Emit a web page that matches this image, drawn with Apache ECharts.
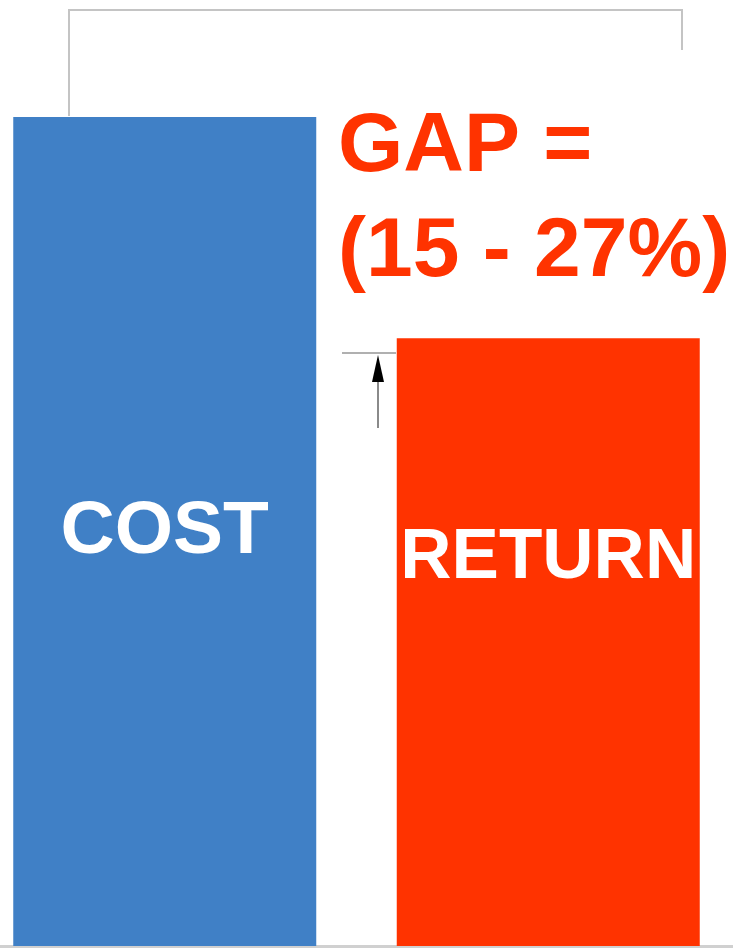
<!DOCTYPE html>
<html>
<head>
<meta charset="utf-8">
<script src="https://cdn.jsdelivr.net/npm/echarts@6/dist/echarts.min.js"></script>
<style>
    html, body { margin: 0; padding: 0; background: #ffffff; }
    #main { width: 733px; height: 948px; }
</style>
</head>
<body>
<div id="main"></div>
<script>
// 数据
const categories = ['COST', 'RETURN']
const values = [100, 73.3]
const barColors = ['#4080C6', '#FF3300']
const gapLines = ['GAP =', '(15 - 27%)']

const chart = echarts.init(document.getElementById('main'), null, { renderer: 'canvas' })

const labelFont = 'Liberation Sans, Arial, sans-serif'

const option = {
    animation: false,
    grid: { left: -27, right: -7, top: 117, bottom: 2, outerBoundsMode: 'none' },
    xAxis: {
        type: 'category',
        data: categories,
        axisLine: { lineStyle: { color: '#d0d0d0', width: 3 } },
        axisTick: { show: false },
        axisLabel: { show: false }
    },
    yAxis: {
        type: 'value',
        min: 0,
        max: 100,
        show: false,
        splitLine: { show: false }
    },
    series: [{
        type: 'bar',
        barWidth: 303,
        data: values.map((v, i) => ({
            value: v,
            itemStyle: { color: barColors[i] },
            label: {
                show: true,
                position: 'inside',
                formatter: categories[i],
                color: '#ffffff',
                fontFamily: labelFont,
                fontWeight: 'bold',
                fontSize: i === 0 ? 75 : 71,
                offset: i === 0 ? [0, 1] : [0, -84]
            }
        }))
    }],
    graphic: [
        // 顶部灰色框
        {
            type: 'polyline',
            shape: { points: [[69, 116], [69, 10], [682, 10], [682, 50]] },
            style: { stroke: '#c4c4c4', lineWidth: 2, fill: null },
            z: 0
        },
        // 箭头
        {
            type: 'line',
            shape: { x1: 342, y1: 353, x2: 396, y2: 353 },
            style: { stroke: '#b0b0b0', lineWidth: 2 }
        },
        {
            type: 'line',
            shape: { x1: 378, y1: 375, x2: 378, y2: 428 },
            style: { stroke: '#8a8a8a', lineWidth: 2 }
        },
        {
            type: 'polygon',
            shape: { points: [[378, 355], [372, 382], [384, 382]] },
            style: { fill: '#000000' }
        },
        // GAP 文字
        {
            type: 'text',
            style: {
                text: gapLines[0],
                x: 338, y: 148,
                font: 'bold 84px "Liberation Sans", Arial, sans-serif',
                fill: '#FF3300',
                textVerticalAlign: 'middle'
            }
        },
        {
            type: 'text',
            style: {
                text: gapLines[1],
                x: 338, y: 253,
                font: 'bold 84px "Liberation Sans", Arial, sans-serif',
                fill: '#FF3300',
                textVerticalAlign: 'middle'
            }
        }
    ]
}

chart.setOption(option)
</script>
</body>
</html>
